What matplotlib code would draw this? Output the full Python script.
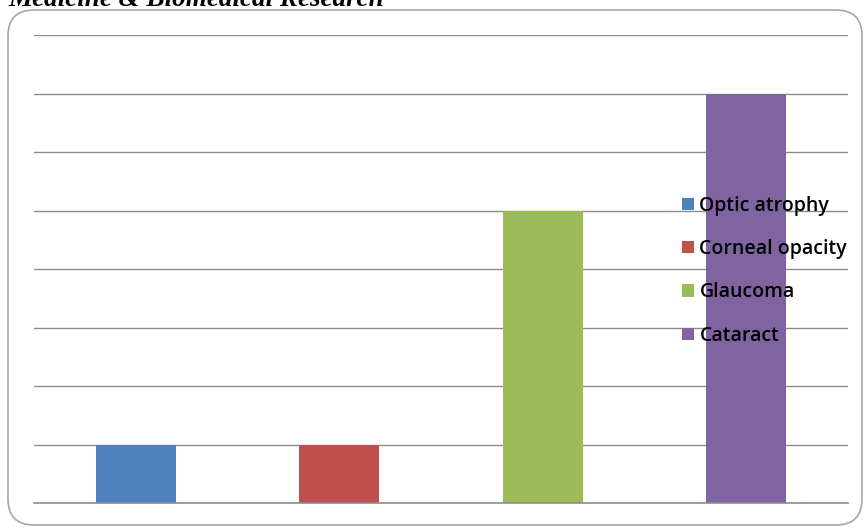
import matplotlib.pyplot as plt
from matplotlib.patches import FancyBboxPatch
import numpy as np

categories = ['Optic atrophy', 'Corneal opacity', 'Glaucoma', 'Cataract']
values = [1, 1, 5, 7]
colors = ['#4f81bd', '#c0504d', '#9bbb59', '#8064a2']

fig = plt.figure(figsize=(8.66, 5.28), dpi=100)

# rounded chart frame
frame = FancyBboxPatch((8/866, 3/528), 854/866, 515/528, boxstyle='round,pad=0,rounding_size=0.03',
                       transform=fig.transFigure, facecolor='white', edgecolor='#a6a6a6',
                       linewidth=1.2, mutation_aspect=866/528, zorder=-1)
fig.patches.append(frame)

# cropped journal header
fig.text(8/866, 1-6/528, 'Medicine & Biomedical Research', fontsize=19.5, fontweight='bold',
         fontstyle='italic', family='Liberation Serif', va='baseline')

ax = fig.add_axes([34/866, 1-503/528, (848-34)/866, (503-35)/528])
ax.set_facecolor('none')
x = np.arange(len(categories))
for i in range(len(categories)):
    ax.bar(x[i], values[i], width=0.395, color=colors[i], label=categories[i], zorder=2)

ax.set_ylim(0, 8)
ax.set_xlim(-0.5, 3.5)
ax.set_yticks(range(0, 9))
ax.yaxis.grid(True, color='#8c8c8c', linewidth=1)
ax.set_axisbelow(True)
ax.axhline(0, color='#8c8c8c', linewidth=1.2, zorder=3, clip_on=False)
ax.tick_params(left=False, bottom=False, labelleft=False, labelbottom=False)
for s in ax.spines.values():
    s.set_visible(False)

leg = ax.legend(loc='upper left', bbox_to_anchor=(0.7745, 0.694), frameon=False,
                prop={'family': 'Open Sans', 'size': 14, 'weight': 'semibold'},
                handlelength=0.6, handleheight=0.6, handletextpad=0.3, labelspacing=1.2)

plt.savefig('out.png', dpi=100)
